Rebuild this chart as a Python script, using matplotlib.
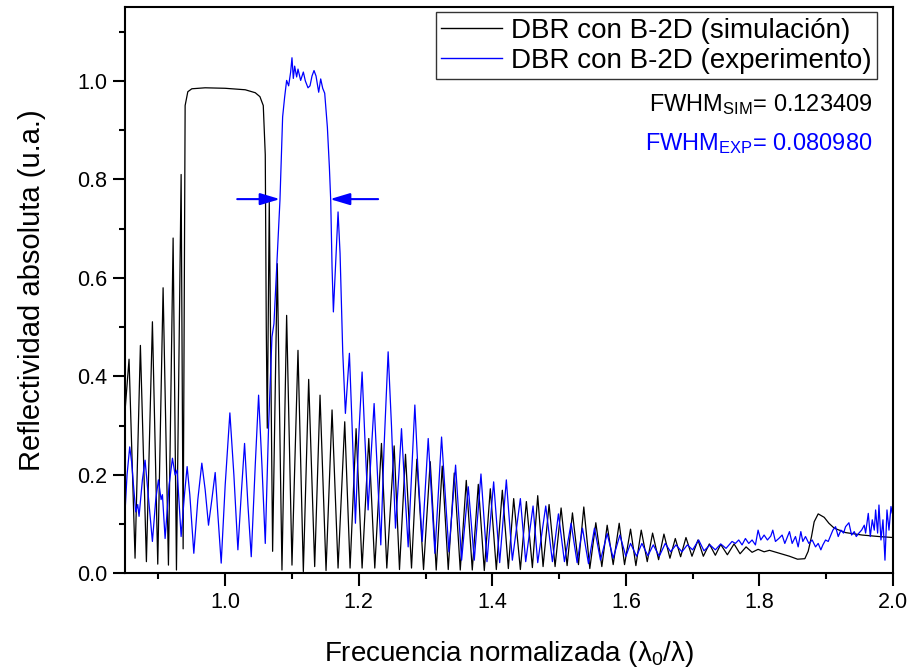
import numpy as np
import matplotlib
matplotlib.use("Agg")
import matplotlib.pyplot as plt
from matplotlib.ticker import MultipleLocator

plt.rcParams['font.family'] = ['Liberation Sans', 'DejaVu Sans']
plt.rcParams['mathtext.fontset'] = 'custom'
plt.rcParams['mathtext.rm'] = 'Liberation Sans'
plt.rcParams['mathtext.it'] = 'Liberation Sans:italic'

# --- simulacion (negro): picos y valles ---
sim_x = [0.850, 0.856, 0.865, 0.873, 0.882, 0.891, 0.899, 0.907, 0.915, 0.922,
         0.927, 0.934, 0.937, 0.9385, 0.940, 0.944, 0.950, 0.970, 1.000, 1.030,
         1.045, 1.052, 1.057, 1.060, 1.0615, 1.063, 1.066, 1.071, 1.078, 1.085,
         1.092, 1.100, 1.109, 1.117, 1.125, 1.134, 1.142, 1.151, 1.160, 1.169,
         1.179, 1.187, 1.196, 1.205, 1.215, 1.224, 1.234, 1.242, 1.253, 1.261,
         1.270, 1.279, 1.287, 1.297, 1.307, 1.316, 1.325, 1.334, 1.343, 1.352,
         1.361, 1.370, 1.379, 1.388, 1.397, 1.406, 1.415, 1.424, 1.432, 1.442,
         1.451, 1.460, 1.468, 1.476, 1.485, 1.494, 1.503, 1.512, 1.520, 1.529,
         1.537, 1.546, 1.555, 1.564, 1.572, 1.581, 1.590, 1.598, 1.607, 1.615,
         1.623, 1.632, 1.640, 1.649, 1.657, 1.666, 1.674, 1.682, 1.690, 1.699,
         1.708, 1.716, 1.725, 1.734, 1.742, 1.752, 1.762, 1.771, 1.780, 1.789,
         1.798, 1.807, 1.815, 1.830, 1.845, 1.857, 1.868, 1.873, 1.878, 1.882,
         1.888, 1.897, 1.904, 1.912, 1.929, 1.954, 1.979, 2.000]
sim_y = [0.330, 0.435, 0.031, 0.463, 0.024, 0.511, 0.019, 0.580, 0.017, 0.681,
         0.007, 0.810, 0.050, 0.500, 0.950, 0.978, 0.984, 0.986, 0.985, 0.982,
         0.976, 0.968, 0.950, 0.850, 0.500, 0.295, 0.755, 0.045, 0.629, 0.007,
         0.524, 0.017, 0.453, 0.004, 0.394, 0.014, 0.362, 0.006, 0.332, 0.011,
         0.308, 0.011, 0.294, 0.011, 0.274, 0.011, 0.264, 0.011, 0.259, 0.008,
         0.242, 0.011, 0.232, 0.008, 0.227, 0.007, 0.218, 0.008, 0.204, 0.007,
         0.189, 0.007, 0.181, 0.006, 0.172, 0.008, 0.169, 0.010, 0.152, 0.008,
         0.146, 0.012, 0.158, 0.014, 0.140, 0.014, 0.133, 0.016, 0.123, 0.018,
         0.135, 0.010, 0.103, 0.014, 0.098, 0.018, 0.102, 0.018, 0.090, 0.016,
         0.088, 0.024, 0.082, 0.028, 0.080, 0.031, 0.071, 0.034, 0.073, 0.035,
         0.068, 0.035, 0.060, 0.037, 0.059, 0.038, 0.060, 0.040, 0.054, 0.043,
         0.049, 0.044, 0.047, 0.041, 0.035, 0.029, 0.030, 0.045, 0.075, 0.105,
         0.121, 0.114, 0.102, 0.092, 0.083, 0.078, 0.075, 0.073]

# --- experimento (azul) ---
exp_x = [0.850, 0.853, 0.857, 0.860, 0.862, 0.866, 0.869, 0.871, 0.876, 0.880,
         0.884, 0.891, 0.896, 0.900, 0.904, 0.906, 0.910, 0.916, 0.921, 0.925,
         0.928, 0.934, 0.939, 0.943, 0.947, 0.953, 0.959, 0.965, 0.970, 0.975,
         0.980, 0.985, 0.989, 0.994, 1.000, 1.007, 1.013, 1.019, 1.024, 1.029,
         1.034, 1.039, 1.045, 1.050, 1.055, 1.060, 1.065, 1.070, 1.073, 1.077,
         1.082, 1.086, 1.089, 1.092, 1.095, 1.098, 1.100, 1.102, 1.104, 1.107,
         1.109, 1.113, 1.117, 1.120, 1.124, 1.127, 1.130, 1.133, 1.136, 1.140,
         1.143, 1.146, 1.149, 1.153, 1.156, 1.158, 1.160, 1.162, 1.165, 1.169,
         1.172, 1.176, 1.180, 1.186, 1.190, 1.195, 1.200, 1.205, 1.209, 1.214,
         1.218, 1.223, 1.228, 1.233, 1.238, 1.244, 1.249, 1.255, 1.260, 1.264,
         1.269, 1.274, 1.279, 1.284, 1.289, 1.295, 1.304, 1.314, 1.324, 1.335,
         1.345, 1.354, 1.364, 1.373, 1.383, 1.392, 1.402, 1.411, 1.421, 1.430,
         1.442, 1.450, 1.461, 1.468, 1.480, 1.490, 1.499, 1.508, 1.518, 1.527,
         1.535, 1.544, 1.553, 1.562, 1.572, 1.581, 1.591, 1.600, 1.607, 1.616,
         1.624, 1.633, 1.641, 1.650, 1.659, 1.667, 1.675, 1.684, 1.692, 1.700,
         1.709, 1.717, 1.726, 1.734, 1.742, 1.750, 1.759, 1.764, 1.769, 1.774,
         1.779, 1.784, 1.789, 1.794, 1.798, 1.802, 1.807, 1.812, 1.817, 1.820,
         1.824, 1.829, 1.834, 1.838, 1.842, 1.845, 1.849, 1.854, 1.858, 1.862,
         1.865, 1.869, 1.874, 1.879, 1.884, 1.888, 1.892, 1.895, 1.899, 1.903,
         1.907, 1.910, 1.914, 1.918, 1.922, 1.926, 1.929, 1.934, 1.938, 1.942,
         1.945, 1.949, 1.953, 1.957, 1.959, 1.963, 1.966, 1.969, 1.972, 1.974,
         1.977, 1.979, 1.982, 1.985, 1.988, 1.991, 1.994, 1.997, 1.999, 2.000]
exp_y = [0.125, 0.200, 0.257, 0.225, 0.190, 0.125, 0.140, 0.116, 0.190, 0.230,
         0.170, 0.065, 0.150, 0.190, 0.150, 0.160, 0.071, 0.180, 0.234, 0.200,
         0.210, 0.075, 0.160, 0.217, 0.160, 0.041, 0.150, 0.224, 0.170, 0.098,
         0.150, 0.205, 0.120, 0.021, 0.180, 0.326, 0.200, 0.048, 0.160, 0.264,
         0.140, 0.034, 0.220, 0.362, 0.220, 0.061, 0.300, 0.480, 0.507, 0.620,
         0.758, 0.927, 0.967, 1.001, 0.990, 1.018, 1.047, 1.005, 1.030, 1.008,
         1.024, 1.001, 1.018, 1.000, 0.986, 0.990, 1.010, 1.021, 1.010, 0.977,
         1.004, 0.985, 0.975, 0.906, 0.825, 0.758, 0.622, 0.531, 0.620, 0.734,
         0.650, 0.450, 0.325, 0.447, 0.300, 0.102, 0.280, 0.409, 0.280, 0.129,
         0.230, 0.345, 0.200, 0.058, 0.260, 0.450, 0.300, 0.092, 0.200, 0.294,
         0.170, 0.054, 0.200, 0.342, 0.200, 0.065, 0.274, 0.041, 0.277, 0.044,
         0.220, 0.027, 0.176, 0.027, 0.202, 0.024, 0.186, 0.022, 0.190, 0.027,
         0.152, 0.024, 0.137, 0.022, 0.137, 0.024, 0.121, 0.024, 0.102, 0.022,
         0.092, 0.020, 0.092, 0.027, 0.081, 0.031, 0.078, 0.035, 0.061, 0.035,
         0.061, 0.036, 0.058, 0.035, 0.061, 0.044, 0.058, 0.044, 0.058, 0.048,
         0.068, 0.046, 0.058, 0.048, 0.060, 0.051, 0.065, 0.061, 0.068, 0.058,
         0.071, 0.061, 0.068, 0.058, 0.088, 0.068, 0.078, 0.068, 0.076, 0.088,
         0.065, 0.071, 0.078, 0.061, 0.075, 0.085, 0.061, 0.075, 0.054, 0.085,
         0.065, 0.075, 0.061, 0.068, 0.054, 0.061, 0.048, 0.058, 0.068, 0.065,
         0.078, 0.088, 0.095, 0.075, 0.088, 0.082, 0.095, 0.103, 0.078, 0.085,
         0.075, 0.082, 0.088, 0.098, 0.082, 0.122, 0.075, 0.109, 0.088, 0.129,
         0.082, 0.139, 0.068, 0.109, 0.027, 0.129, 0.088, 0.136, 0.122, 0.125]

# FWHM del experimento (flechas)
fwhm_y = 0.76
fwhm_left = [1.018, 1.082]
fwhm_right = [1.229, 1.157]

fig = plt.figure(figsize=(9.10, 6.68), dpi=100)
ax = fig.add_axes([0.1374, 0.1415, 0.8439, 0.848])

ax.plot(sim_x, sim_y, color='black', lw=0.9, label='DBR con B-2D (simulación)')
ax.plot(exp_x, exp_y, color='#0000ff', lw=0.9, label='DBR con B-2D (experimento)')

arr = dict(arrowstyle='-|>,head_length=0.6,head_width=0.18', color='#0000ff',
           lw=1.5, mutation_scale=20, shrinkA=0, shrinkB=0)
ax.annotate('', xy=(fwhm_left[1], fwhm_y), xytext=(fwhm_left[0], fwhm_y), arrowprops=arr)
ax.annotate('', xy=(fwhm_right[1], fwhm_y), xytext=(fwhm_right[0], fwhm_y), arrowprops=arr)

ax.set_xlim(0.85, 2.0)
ax.set_ylim(0.0, 1.15)
ax.xaxis.set_major_locator(MultipleLocator(0.2))
ax.xaxis.set_minor_locator(MultipleLocator(0.1))
ax.yaxis.set_major_locator(MultipleLocator(0.2))
ax.yaxis.set_minor_locator(MultipleLocator(0.1))
ax.set_xticks([1.0, 1.2, 1.4, 1.6, 1.8, 2.0])
ax.xaxis.set_major_formatter(plt.FormatStrFormatter('%.1f'))
ax.yaxis.set_major_formatter(plt.FormatStrFormatter('%.1f'))
ax.tick_params(which='both', direction='out', width=1.5, labelsize=15.5, top=False, right=False)
ax.tick_params(which='major', length=9, pad=4)
ax.tick_params(which='minor', length=4.5)
for s in ax.spines.values():
    s.set_linewidth(1.5)

ax.set_xlabel('Frecuencia normalizada (λ$_\\mathregular{0}$/λ)', fontsize=20, labelpad=19)
ax.set_ylabel('Reflectividad absoluta (u.a.)', fontsize=21, labelpad=22)

leg = ax.legend(loc='upper right', bbox_to_anchor=(0.979, 0.991), borderaxespad=0,
                fontsize=20, frameon=True, fancybox=False, handlelength=2.2,
                handletextpad=0.3, borderpad=0.2, labelspacing=0.14)
leg.get_frame().set_edgecolor('black')
leg.get_frame().set_linewidth(1.0)
for h in leg.get_lines():
    h.set_linewidth(1.0)

ax.text(0.9727, 0.8164, 'FWHM$_\\mathregular{SIM}$= 0.123409', transform=ax.transAxes,
        ha='right', va='baseline', fontsize=17, color='black')
ax.text(0.9727, 0.7476, 'FWHM$_\\mathregular{EXP}$= 0.080980', transform=ax.transAxes,
        ha='right', va='baseline', fontsize=17, color='#0000ff')

fig.savefig('out.png', dpi=100)
